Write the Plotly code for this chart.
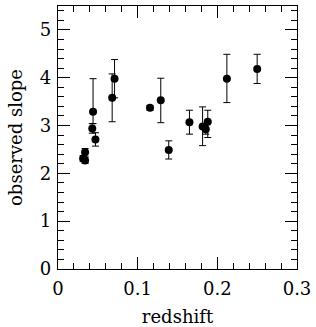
import plotly.graph_objects as go

redshift = [0.0315, 0.034, 0.034, 0.043, 0.044, 0.047, 0.068, 0.071, 0.1155,
            0.129, 0.139, 0.165, 0.1815, 0.1855, 0.188, 0.212, 0.250]
slope = [2.31, 2.27, 2.44, 2.94, 3.29, 2.71, 3.58, 3.98, 3.37,
         3.53, 2.49, 3.07, 2.98, 2.92, 3.08, 3.98, 4.18]
err_up = [0.06, 0.06, 0.08, 0.10, 0.69, 0.14, 0.50, 0.40, 0.05,
          0.46, 0.19, 0.25, 0.41, 0.10, 0.24, 0.51, 0.31]
err_down = [0.06, 0.06, 0.08, 0.10, 0.25, 0.14, 0.50, 0.40, 0.05,
            0.47, 0.19, 0.25, 0.40, 0.10, 0.33, 0.50, 0.30]

font = "DejaVu Serif"

fig = go.Figure(go.Scatter(
    x=redshift, y=slope, mode="markers",
    marker=dict(color="black", size=8),
    error_y=dict(type="data", symmetric=False, array=err_up, arrayminus=err_down,
                 color="black", thickness=1, width=3.5),
    showlegend=False,
))

axis_common = dict(
    showgrid=False, zeroline=False, showline=True, linecolor="black", linewidth=1.2,
    mirror="allticks", ticks="inside", ticklen=12, tickwidth=1, tickcolor="black",
    tickfont=dict(family=font, size=18, color="black"),
)

fig.update_xaxes(range=[0, 0.3], tickvals=[0, 0.1, 0.2, 0.3],
                 ticktext=["0", "0.1", "0.2", "0.3"], ticklabelstandoff=3,
                 minor=dict(dtick=0.02, ticks="inside", ticklen=6, tickcolor="black", tickwidth=1),
                 title=dict(text="redshift", font=dict(family=font, size=18, color="black"), standoff=15),
                 **axis_common)
fig.update_yaxes(range=[0, 5.5], tickvals=[0, 1, 2, 3, 4, 5], ticklabelstandoff=2,
                 minor=dict(dtick=0.2, ticks="inside", ticklen=6, tickcolor="black", tickwidth=1),
                 title=dict(text="observed slope", font=dict(family=font, size=18, color="black"), standoff=12),
                 **axis_common)

fig.update_layout(
    width=316, height=327,
    margin=dict(l=58, r=19, t=6, b=58, autoexpand=False),
    plot_bgcolor="white", paper_bgcolor="white",
)

fig.write_html("out.html", config={"displayModeBar": False},
               post_script="document.body.style.margin='0';")
